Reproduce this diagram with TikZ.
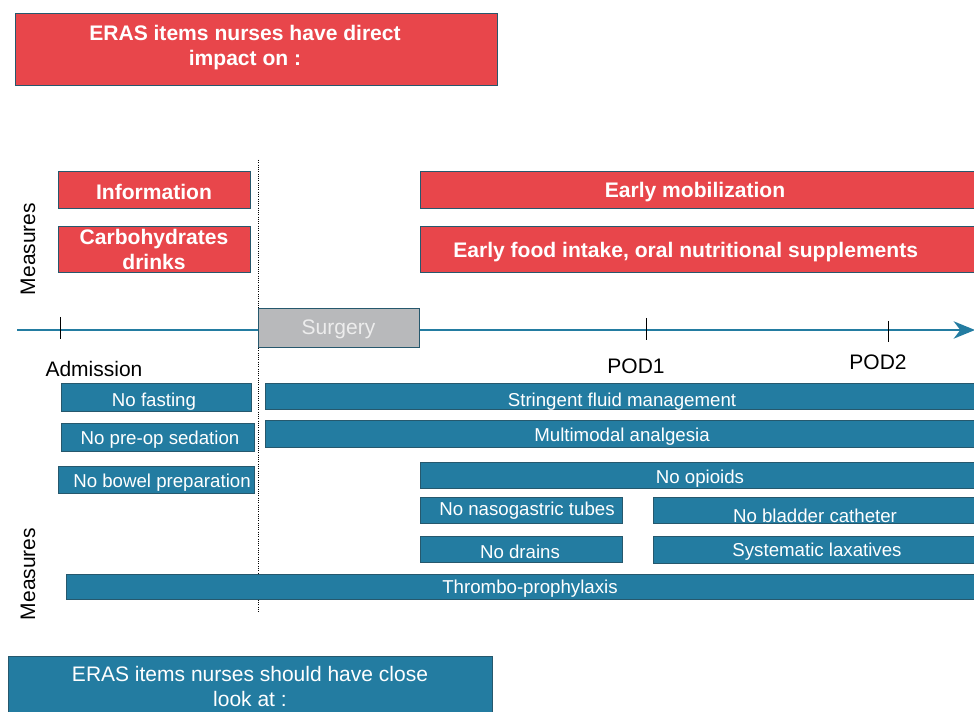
\documentclass[tikz,border=0pt]{standalone}
\usepackage{fontspec}
\setmainfont{Liberation Sans}
\usetikzlibrary{arrows.meta}

\definecolor{erared}{HTML}{E8464B}
\definecolor{erablue}{HTML}{237CA1}
\definecolor{edgeblue}{HTML}{26586D}
\definecolor{surggray}{HTML}{B8B9BB}

\tikzset{
  redbox/.style={fill=erared, draw=edgeblue, line width=0.7pt},
  bluebox/.style={fill=erablue, draw=edgeblue, line width=0.7pt},
  boldlab/.style={text=white, align=center, inner sep=0pt, yshift=-2pt,
    font=\bfseries\fontsize{15.8}{18.75}\selectfont},
  itemlab/.style={text=white, inner sep=0pt, font=\fontsize{14}{16}\selectfont},
  axislab/.style={inner sep=0pt, align=center, font=\fontsize{15.75}{18.75}\selectfont},
}

\begin{document}
\begin{tikzpicture}[x=0.75pt, y=-0.75pt]
  \clip (0,0) rectangle (974,712);

  % headline boxes
  \draw[redbox] (15,13) rectangle (497,85);
  \node[boldlab] (direct) at (245,45) {ERAS items nurses have direct\\impact on :};
  \draw[bluebox] (8,656) rectangle (492,716);
  \node[axislab, text=white] (close) at (250,686) {ERAS items nurses should have close\\look at :};

  % red measures
  \draw[redbox] (58,171) rectangle (250,208) node[midway, boldlab] (info) {Information};
  \draw[redbox] (58,226) rectangle (250,272) node[midway, boldlab, yshift=1.5pt] (carbo) {Carbohydrates\\drinks};
  \draw[redbox] (420,171) rectangle (978,208) node[midway, boldlab, xshift=-3pt] (mobil) {Early mobilization};
  \draw[redbox] (420,226) rectangle (978,272) node[midway, boldlab, xshift=-10pt] (food) {Early food intake, oral nutritional supplements};

  \node[axislab, rotate=90] (meastop) at (28,249) {Measures};
  \node[axislab, rotate=90] (measbot) at (28,574) {Measures};

  % time axis
  \coordinate (axstart) at (17,330);
  \coordinate (axend) at (975,330);
  \draw[erablue, line width=1.6pt, -{Stealth[length=16pt, width=13pt, inset=5pt]}] (axstart) -- (axend);
  \draw[densely dotted, line width=0.7pt] (258,160) -- (258,612);

  \draw[fill=surggray, draw=edgeblue, line width=0.7pt] (258,308) rectangle (419,347)
    node[midway, axislab, text=white!93!black, yshift=-1.5pt] (surgery) {Surgery};

  \draw[line width=0.7pt] (60,317) -- (60,339);
  \draw[line width=0.7pt] (646,318) -- (646,340);
  \draw[line width=0.7pt] (888,321) -- (888,342);
  \node[axislab] (admis) at (94,369) {Admission};
  \node[axislab] (pod1) at (636,366) {POD1};
  \node[axislab] (pod2) at (878,362) {POD2};

  % blue measures
  \draw[bluebox] (61,383) rectangle (251,411);
  \draw[bluebox] (265,383) rectangle (978,409);
  \draw[bluebox] (61,423) rectangle (254,451);
  \draw[bluebox] (265,420) rectangle (978,447);
  \draw[bluebox] (58,466) rectangle (254,493);
  \draw[bluebox] (420,462) rectangle (978,488);
  \draw[bluebox] (420,497) rectangle (622,523);
  \draw[bluebox] (653,497) rectangle (978,523);
  \draw[bluebox] (420,536) rectangle (622,562);
  \draw[bluebox] (653,536) rectangle (978,563);
  \draw[bluebox] (66,574) rectangle (978,599);

  \node[itemlab] (nofast) at (154,402) {No fasting};
  \node[itemlab] (nosed) at (160,440) {No pre-op sedation};
  \node[itemlab] (nobowel) at (162,483) {No bowel preparation};
  \node[itemlab] (fluid) at (622,402) {Stringent fluid management};
  \node[itemlab] (analg) at (622,437) {Multimodal analgesia};
  \node[itemlab] (noopi) at (700,479) {No opioids};
  \node[itemlab] (nogast) at (527,511) {No nasogastric tubes};
  \node[itemlab] (nocath) at (815,516) {No bladder catheter};
  \node[itemlab] (nodrain) at (520,552) {No drains};
  \node[itemlab] (laxat) at (817,552) {Systematic laxatives};
  \node[itemlab] (thrombo) at (530,589) {Thrombo-prophylaxis};
\end{tikzpicture}
\end{document}
